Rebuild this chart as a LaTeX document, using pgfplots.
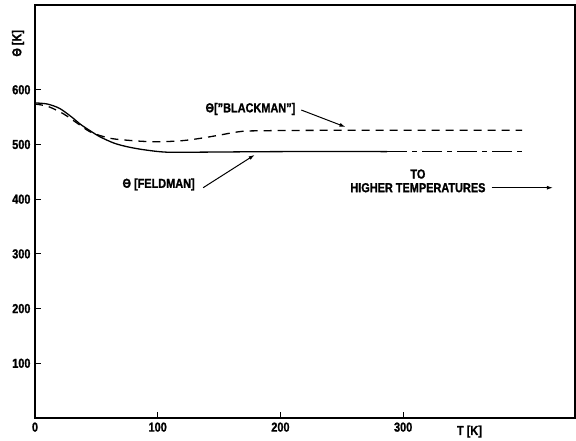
\documentclass[border=0pt]{standalone}
\usepackage{fontspec}
\setmainfont{Liberation Sans}[FakeStretch=0.84, BoldFeatures={FakeBold=1.2}]
\usepackage{pgfplots}
\pgfplotsset{compat=1.18}
\usetikzlibrary{arrows.meta}
\newcommand{\lbl}{\bfseries\fontsize{13}{15}\selectfont}
\begin{document}
\begin{tikzpicture}
\begin{axis}[
    scale only axis,
    width=540pt, height=413pt,
    xmin=0, xmax=440, ymin=0, ymax=755,
    xtick={0,100,200,300}, ytick={100,200,300,400,500,600},
    tick align=inside, xtick pos=bottom, ytick pos=left,
    major tick length=6pt,
    axis line style={line width=1.3pt},
    every tick/.style={line width=1.2pt, black},
    ticklabel style={font=\lbl},
    /pgf/number format/assume math mode=true,
    xticklabel style={yshift=-1pt},
    yticklabel style={xshift=-1pt},
    clip=false,
]
% Theta (Feldman), solid part
\addplot[black, line width=1.3pt, smooth] coordinates {
    (0,576) (10,574) (20,566) (30,550) (37,537) (45,525) (53,514)
    (65,502) (77,495) (90,490) (107,486) (134,486) (200,487) (287,487)
};
% Theta (Feldman), extension to higher temperatures
\addplot[black, line width=1.3pt, dash pattern=on 20pt off 5pt on 5pt off 5pt] coordinates {
    (287,487) (401,487)
};
% Theta ("Blackman")
\addplot[black, line width=1.3pt, smooth, dash pattern=on 8pt off 6pt] coordinates {
    (0,574) (10,570) (20,560) (26,552) (35,538) (45,523) (55,515)
    (65,510) (86,506) (102,505) (120,507) (134,511) (150,517)
    (165,523) (180,525) (250,526) (397,526)
};
\node[font=\lbl, anchor=east] at (axis cs:215,565) {Θ[''BLACKMAN'']};
\draw[-{Latex[length=6pt,width=4pt]}, line width=1pt] (axis cs:217,563) -- (axis cs:253,532);
\node[font=\lbl, anchor=east] at (axis cs:133,427) {Θ [FELDMAN]};
\draw[-{Latex[length=6pt,width=4pt]}, line width=1pt] (axis cs:137,421) -- (axis cs:179,481);
\node[font=\lbl] at (axis cs:312,446) {TO};
\node[font=\lbl] at (axis cs:312,421) {HIGHER TEMPERATURES};
\draw[-{Latex[length=6pt,width=4pt]}, line width=1pt] (axis cs:372,421) -- (axis cs:422,421);
\node[font=\lbl, anchor=north] at (axis cs:354,0) [yshift=-4pt] {T [K]};
\node[font=\lbl, xshift=-17pt, rotate=90] at (axis cs:0,685) {Θ [K]};
\end{axis}
\pgfresetboundingbox
\path (-35pt,-22pt) rectangle (541pt,418pt);
\end{tikzpicture}
\end{document}
